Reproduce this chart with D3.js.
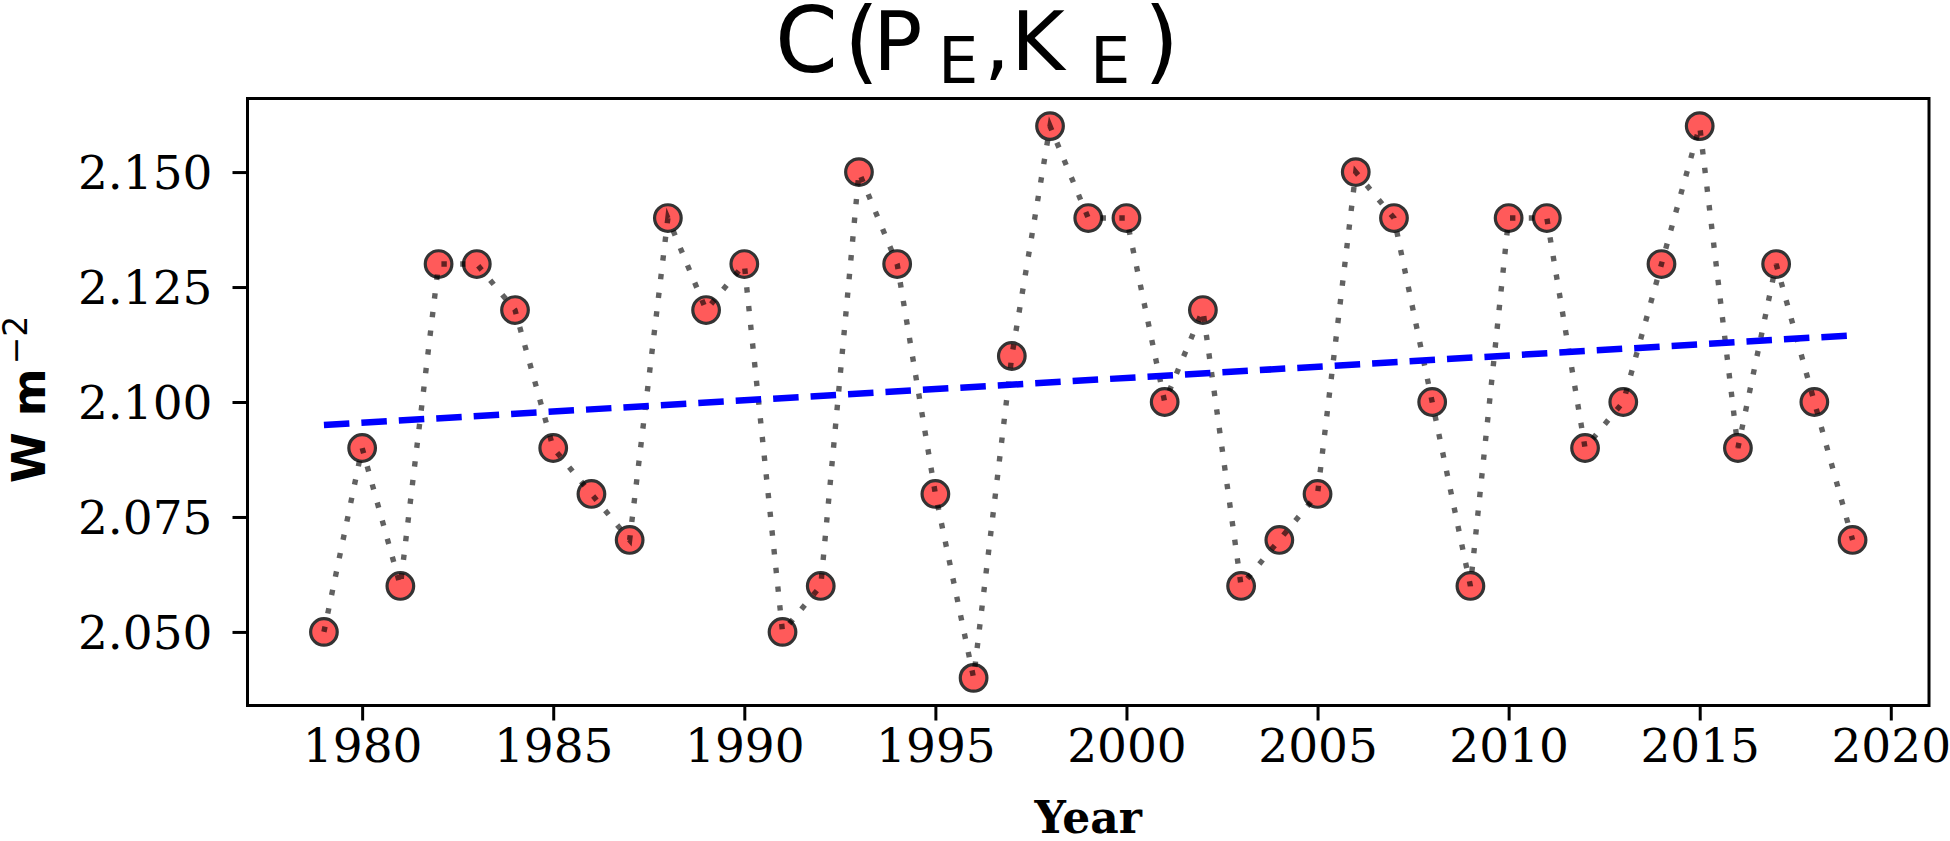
<!DOCTYPE html>
<html lang="en">
<head>
  <meta charset="UTF-8">
  <title>C(PE,KE)</title>
  <script src="https://d3js.org/d3.v7.min.js"></script>
  <style>
    html, body { margin: 0; padding: 0; background: #fff; }
    svg { display: block; }
    .tick text { font-family: "DejaVu Serif", serif; font-size: 47px; fill: #000; }
  </style>
</head>
<body>
  <div id="chart"></div>
  <script>
    // data
    var years = [1979, 1980, 1981, 1982, 1983, 1984, 1985, 1986, 1987, 1988,
                 1989, 1990, 1991, 1992, 1993, 1994, 1995, 1996, 1997, 1998,
                 1999, 2000, 2001, 2002, 2003, 2004, 2005, 2006, 2007, 2008,
                 2009, 2010, 2011, 2012, 2013, 2014, 2015, 2016, 2017, 2018, 2019];
    var values = [2.05, 2.09, 2.06, 2.13, 2.13, 2.12, 2.09, 2.08, 2.07, 2.14,
                  2.12, 2.13, 2.05, 2.06, 2.15, 2.13, 2.08, 2.04, 2.11, 2.16,
                  2.14, 2.14, 2.10, 2.12, 2.06, 2.07, 2.08, 2.15, 2.14, 2.10,
                  2.06, 2.14, 2.14, 2.09, 2.10, 2.13, 2.16, 2.09, 2.13, 2.10, 2.07];
    // linear trend end points
    var trendYears = [1979, 2019];
    var trendValues = [2.095, 2.1145];
    var xTicks = [1980, 1985, 1990, 1995, 2000, 2005, 2010, 2015, 2020];
    var yTicks = [2.050, 2.075, 2.100, 2.125, 2.150];

    var W = 1950, H = 841;
    var margin = {top: 98.5, right: 21, bottom: 135.5, left: 247.5};
    var width = W - margin.left - margin.right,
        height = H - margin.top - margin.bottom;

    var svg = d3.select("#chart").append("svg")
      .attr("width", W)
      .attr("height", H);

    var g = svg.append("g")
      .attr("transform", "translate(" + margin.left + "," + margin.top + ")");

    var x = d3.scaleLinear().domain([1977, 2021]).range([0, width]);
    var y = d3.scaleLinear().domain([2.034, 2.166]).range([height, 0]);

    // axes
    var xAxis = g.append("g")
      .attr("transform", "translate(0," + height + ")")
      .call(d3.axisBottom(x).tickValues(xTicks).tickFormat(d3.format("d"))
        .tickSize(15).tickPadding(8));
    var yAxis = g.append("g")
      .call(d3.axisLeft(y).tickValues(yTicks).tickFormat(d3.format(".3f"))
        .tickSize(15).tickPadding(20));
    [xAxis, yAxis].forEach(function(a) {
      a.select(".domain").remove();
      a.selectAll(".tick line").attr("stroke", "#000").attr("stroke-width", 3);
    });
    yAxis.selectAll(".tick text").attr("dy", "0.36em");
    xAxis.selectAll(".tick text").attr("dy", "0.72em");

    // frame
    g.append("rect")
      .attr("width", width)
      .attr("height", height)
      .attr("fill", "none")
      .attr("stroke", "#000")
      .attr("stroke-width", 3);

    var pts = years.map(function(d, i) { return [d, values[i]]; });

    // markers
    g.selectAll("circle.pt")
      .data(pts)
      .enter().append("circle")
      .attr("class", "pt")
      .attr("cx", function(d) { return x(d[0]); })
      .attr("cy", function(d) { return y(d[1]); })
      .attr("r", 13.3)
      .attr("fill", "#ff5a5a")
      .attr("stroke", "#333")
      .attr("stroke-width", 3.2);

    // dotted connecting line (drawn over markers, semi transparent)
    var line = d3.line()
      .x(function(d) { return x(d[0]); })
      .y(function(d) { return y(d[1]); });
    g.append("path")
      .datum(pts)
      .attr("d", line)
      .attr("fill", "none")
      .attr("stroke", "#000")
      .attr("stroke-opacity", 0.62)
      .attr("stroke-width", 5.4)
      .attr("stroke-dasharray", "5.4 13.4");

    // trend line
    var trend = trendYears.map(function(d, i) { return [d, trendValues[i]]; });
    g.append("path")
      .datum(trend)
      .attr("d", line)
      .attr("fill", "none")
      .attr("stroke", "#0000ff")
      .attr("stroke-width", 6.5)
      .attr("stroke-dasharray", "25.5 12");

    // title, glyph by glyph to follow the mathtext look
    var titleParts = [
      {t: "C", x: 775, y: 72, s: 90},
      {t: "(", x: 844, y: 72, s: 90},
      {t: "P", x: 873, y: 70, s: 82},
      {t: "E", x: 938, y: 83, s: 64},
      {t: ",", x: 984, y: 70, s: 82},
      {t: "K", x: 1011, y: 70, s: 82},
      {t: "E", x: 1090, y: 83, s: 64},
      {t: ")", x: 1144, y: 72, s: 90}
    ];
    var title = svg.append("text")
      .style("font-family", "'DejaVu Sans', sans-serif");
    titleParts.forEach(function(p) {
      title.append("tspan")
        .attr("x", p.x).attr("y", p.y)
        .style("font-size", p.s + "px")
        .text(p.t);
    });

    // axis labels
    svg.append("text")
      .attr("x", margin.left + width / 2)
      .attr("y", 833)
      .attr("text-anchor", "middle")
      .style("font-family", "'DejaVu Serif', serif")
      .style("font-weight", "bold")
      .style("font-size", "44px")
      .text("Year");

    var yl = svg.append("text")
      .attr("transform", "translate(45,483) rotate(-90)")
      .attr("text-anchor", "start")
      .style("font-family", "'DejaVu Sans', sans-serif")
      .style("font-size", "46px");
    yl.append("tspan").style("font-weight", "bold").text("W m");
    yl.append("tspan").attr("dx", 4).attr("dy", -18)
      .style("font-size", "33px").text("\u22122");
  </script>
</body>
</html>
